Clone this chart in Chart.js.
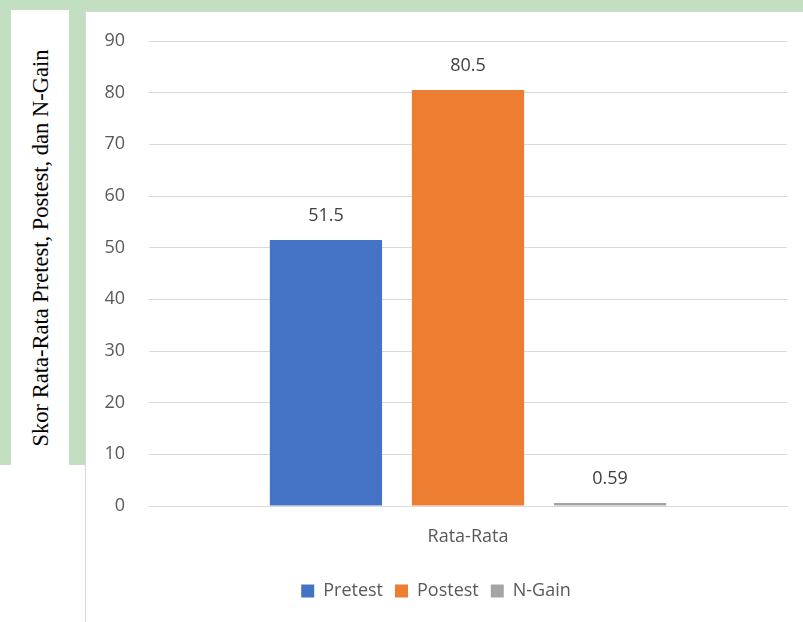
<!DOCTYPE html>
<html>
<head>
<meta charset="utf-8">
<script src="https://cdn.jsdelivr.net/npm/chart.js@4.4.0/dist/chart.umd.min.js"></script>
<style>
  html, body { margin: 0; padding: 0; }
  body { width: 803px; height: 622px; position: relative; overflow: hidden; background: #fff; }
  .wm { position: absolute; left: 0; top: 0; width: 803px; height: 12px; background: #c2dfc1; }
  .wm-left { position: absolute; left: 0; top: 0; width: 86px; height: 465px; background: #c2dfc1; }
  .title-box { position: absolute; left: 11px; top: 10px; width: 58px; height: 612px; background: #fff; }
  .chart-box { position: absolute; left: 85px; top: 11px; width: 718px; height: 611px; background: #fff;
               border-left: 1px solid #d9d9d9; border-top: 1px solid #d9d9d9; box-sizing: border-box; }
  .ytitle { position: absolute; left: 41px; top: 248px; transform: translate(-50%, -50%) rotate(-90deg);
            white-space: nowrap; font-family: "Liberation Serif", "Times New Roman", serif; font-size: 22.5px; color: #000; }
  canvas { position: absolute; left: 0; top: 0; }
</style>
</head>
<body>
<div class="wm"></div>
<div class="wm-left"></div>
<div class="title-box"></div>
<div class="chart-box"></div>
<div class="ytitle">Skor Rata-Rata Pretest, Postest, dan N-Gain</div>
<canvas id="chart" width="803" height="622"></canvas>
<script>
// data
const categories = ['Rata-Rata'];
const seriesNames = ['Pretest', 'Postest', 'N-Gain'];
const pretest = [51.5];
const postest = [80.5];
const nGain = [0.59];
const seriesColors = ['#4472C4', '#ED7D31', '#A5A5A5'];
const yTicks = [0, 10, 20, 30, 40, 50, 60, 70, 80, 90];

const FONT = '"Open Sans", "DejaVu Sans", sans-serif';

// labels above the bars
const valueLabels = {
    id: 'valueLabels',
    afterDatasetsDraw(chart) {
        const ctx = chart.ctx;
        ctx.save();
        ctx.font = '18px ' + FONT;
        ctx.fillStyle = '#404040';
        ctx.textAlign = 'center';
        ctx.textBaseline = 'middle';
        chart.data.datasets.forEach((ds, i) => {
            chart.getDatasetMeta(i).data.forEach((bar, j) => {
                ctx.fillText(String(ds.data[j]), bar.x, bar.y - 24);
            });
        });
        ctx.restore();
    }
};

const ctx = document.getElementById('chart').getContext('2d');
new Chart(ctx, {
    type: 'bar',
    data: {
        labels: categories,
        datasets: [
            { label: seriesNames[0], data: pretest, backgroundColor: seriesColors[0] },
            { label: seriesNames[1], data: postest, backgroundColor: seriesColors[1] },
            { label: seriesNames[2], data: nGain, backgroundColor: seriesColors[2] }
        ]
    },
    options: {
        responsive: false,
        animation: false,
        layout: { padding: { left: 85, right: 16, top: 41, bottom: 12 } },
        datasets: { bar: { categoryPercentage: 0.668, barPercentage: 0.79 } },
        scales: {
            x: {
                grid: { display: false, drawTicks: false },
                border: { color: '#d9d9d9', width: 1 },
                ticks: { color: '#595959', font: { family: FONT, size: 18 }, padding: 20 },
                afterFit(scale) { scale.height = 64; }
            },
            y: {
                min: 0,
                max: 90,
                afterBuildTicks(scale) { scale.ticks = yTicks.map(v => ({ value: v })); },
                grid: { color: '#d9d9d9', drawTicks: false },
                border: { display: false },
                ticks: { color: '#595959', font: { family: FONT, size: 18 }, padding: 24 },
                afterFit(scale) { scale.width = 64; }
            }
        },
        plugins: {
            legend: {
                position: 'bottom',
                labels: {
                    color: '#595959',
                    font: { family: FONT, size: 18 },
                    boxWidth: 13,
                    boxHeight: 13,
                    padding: 12
                }
            },
            tooltip: { enabled: false }
        }
    },
    plugins: [valueLabels]
});
</script>
</body>
</html>
